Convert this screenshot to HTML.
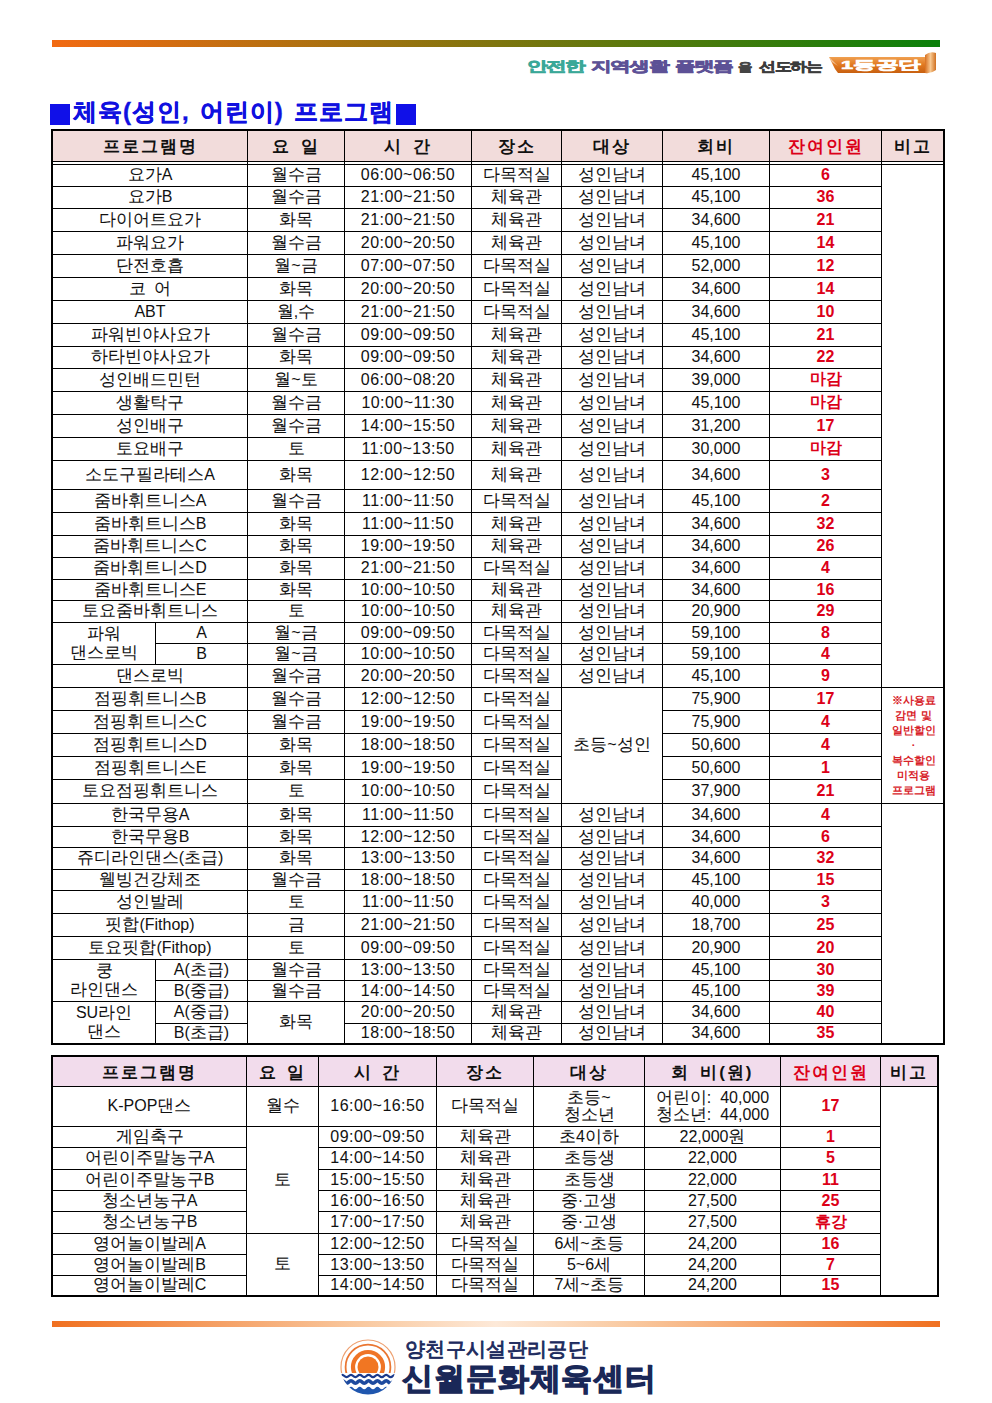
<!DOCTYPE html>
<html lang="ko"><head><meta charset="utf-8"><title>체육 프로그램</title>
<style>
html,body{margin:0;padding:0;background:#fff}
body{width:992px;height:1403px;position:relative;overflow:hidden;font-family:"Liberation Sans", sans-serif;color:#111}
i{position:absolute;display:block}
.c{position:absolute;display:flex;align-items:center;justify-content:center;text-align:center;font-weight:normal;font-size:16px;line-height:1;white-space:nowrap;padding-bottom:2px;box-sizing:border-box}
.c.h{font-weight:bold;font-size:17px;letter-spacing:2px;word-spacing:3px;padding-bottom:0;padding-top:1px}
.k{font-size:17px;-webkit-text-stroke:0.05px currentColor}
.c.h .k{font-size:17px;-webkit-text-stroke:0}
.c.red .k{-webkit-text-stroke:0;font-size:16px}
.c.note .k{font-size:11px;-webkit-text-stroke:0}
.c.h.red .k{font-size:17px}
.c.red{color:#dc0018;font-weight:bold}
.c p{margin:0;padding:0}
.c.tm{letter-spacing:0.45px}
.c.dg{padding-bottom:1px}
.c.ml{line-height:19px}
.c.ml2{line-height:17px}
.c.note{font-size:11px;line-height:15px;color:#d8232a;font-weight:bold;padding-bottom:0;padding-left:2px}
.topbar{position:absolute;left:52px;top:40px;width:888px;height:7px;background:linear-gradient(90deg,#f26a12,#0a800a)}
.botbar{position:absolute;left:52px;top:1321px;width:888px;height:6px;background:linear-gradient(90deg,#f07020 0%,#f9c9a0 35%,#fde9d8 50%,#f9c9a0 65%,#f07020 100%)}
.title{position:absolute;left:73px;top:96px;font-size:24px;font-weight:bold;color:#1010e0;white-space:nowrap;line-height:32px;letter-spacing:1px;word-spacing:2.5px;-webkit-text-stroke:0.4px #1010e0}
.sg{position:absolute;white-space:nowrap;font-weight:bold;line-height:1;transform-origin:0 0}
</style></head><body>
<div class="topbar"></div>
<i style="left:50px;top:104px;width:20px;height:21px;background:#1010e8"></i>
<div class="title">체육(성인, 어린이) 프로그램</div>
<i style="left:396px;top:104px;width:20px;height:21px;background:#1010e8"></i>
<div class="sg" style="left:527px;top:59px;font-size:14px;letter-spacing:-1px;color:#3aa898;transform:scaleX(1.48);-webkit-text-stroke:0.7px #3aa898">안전한</div>
<div class="sg" style="left:591px;top:59px;font-size:14px;letter-spacing:-1px;color:#5d5196;transform:scaleX(1.48);-webkit-text-stroke:0.7px #5d5196">지역생활</div>
<div class="sg" style="left:675px;top:59px;font-size:14px;letter-spacing:-1px;color:#5d5196;transform:scaleX(1.48);-webkit-text-stroke:0.7px #5d5196">플랫폼</div>
<div class="sg" style="left:738px;top:61px;font-size:12px;color:#444;transform:scaleX(1.2);-webkit-text-stroke:0.6px #444">을</div>
<div class="sg" style="left:759px;top:60px;font-size:13px;letter-spacing:-1px;color:#3c3c3c;transform:scaleX(1.3);-webkit-text-stroke:0.6px #3c3c3c">선도하는</div>
<svg style="position:absolute;left:826px;top:50px" width="114" height="26" viewBox="0 0 114 26">
<defs><linearGradient id="rb" x1="0" y1="0" x2="0" y2="1"><stop offset="0" stop-color="#f0a050"/><stop offset="0.5" stop-color="#e07820"/><stop offset="1" stop-color="#c86010"/></linearGradient>
<linearGradient id="cl" x1="0" y1="0" x2="1" y2="0"><stop offset="0" stop-color="#d87020"/><stop offset="0.5" stop-color="#f8c890"/><stop offset="1" stop-color="#d07020"/></linearGradient></defs>
<path d="M3 7 L102 7 L102 23 L12 23 L9 19 Z M3 7 L11 15 L9 19" fill="url(#rb)"/>
<path d="M3 7 L12 16 L6 12 Z" fill="#fff" opacity="0.5"/>
<path d="M99 5 Q104 1 110 3 L110 20 Q105 24 99 23 Z" fill="url(#cl)"/>
<text x="15" y="19" font-size="11.5" font-weight="bold" fill="#fff" stroke="#fff" stroke-width="0.6" textLength="80" lengthAdjust="spacingAndGlyphs" font-family="Liberation Sans, sans-serif">1등공단</text>
</svg>
<i style="left:53px;top:131px;width:890px;height:30px;background:#f2dcdb"></i>
<b class="c h" style="left:53px;top:131px;width:194px;height:30px;"><p><span class="k">프로그램명</span></p></b>
<b class="c h" style="left:248px;top:131px;width:96px;height:30px;"><p><span class="k">요</span> <span class="k">일</span></p></b>
<b class="c h" style="left:345px;top:131px;width:126px;height:30px;"><p><span class="k">시</span> <span class="k">간</span></p></b>
<b class="c h" style="left:472px;top:131px;width:89px;height:30px;"><p><span class="k">장소</span></p></b>
<b class="c h" style="left:562px;top:131px;width:100px;height:30px;"><p><span class="k">대상</span></p></b>
<b class="c h" style="left:663px;top:131px;width:106px;height:30px;"><p><span class="k">회비</span></p></b>
<b class="c h red" style="left:770px;top:131px;width:111px;height:30px;"><p><span class="k">잔여인원</span></p></b>
<b class="c h" style="left:882px;top:131px;width:61px;height:30px;"><p><span class="k">비고</span></p></b>
<b class="c " style="left:53px;top:165px;width:194px;height:21px;"><p><span class="k">요가</span>A</p></b>
<b class="c " style="left:248px;top:165px;width:96px;height:21px;"><p><span class="k">월수금</span></p></b>
<b class="c  tm dg" style="left:345px;top:165px;width:126px;height:21px;"><p>06:00~06:50</p></b>
<b class="c " style="left:472px;top:165px;width:89px;height:21px;"><p><span class="k">다목적실</span></p></b>
<b class="c " style="left:562px;top:165px;width:100px;height:21px;"><p><span class="k">성인남녀</span></p></b>
<b class="c  dg" style="left:663px;top:165px;width:106px;height:21px;"><p>45,100</p></b>
<b class="c red dg" style="left:770px;top:165px;width:111px;height:21px;"><p>6</p></b>
<b class="c " style="left:53px;top:187px;width:194px;height:21px;"><p><span class="k">요가</span>B</p></b>
<b class="c " style="left:248px;top:187px;width:96px;height:21px;"><p><span class="k">월수금</span></p></b>
<b class="c  tm dg" style="left:345px;top:187px;width:126px;height:21px;"><p>21:00~21:50</p></b>
<b class="c " style="left:472px;top:187px;width:89px;height:21px;"><p><span class="k">체육관</span></p></b>
<b class="c " style="left:562px;top:187px;width:100px;height:21px;"><p><span class="k">성인남녀</span></p></b>
<b class="c  dg" style="left:663px;top:187px;width:106px;height:21px;"><p>45,100</p></b>
<b class="c red dg" style="left:770px;top:187px;width:111px;height:21px;"><p>36</p></b>
<b class="c " style="left:53px;top:209px;width:194px;height:22px;"><p><span class="k">다이어트요가</span></p></b>
<b class="c " style="left:248px;top:209px;width:96px;height:22px;"><p><span class="k">화목</span></p></b>
<b class="c  tm dg" style="left:345px;top:209px;width:126px;height:22px;"><p>21:00~21:50</p></b>
<b class="c " style="left:472px;top:209px;width:89px;height:22px;"><p><span class="k">체육관</span></p></b>
<b class="c " style="left:562px;top:209px;width:100px;height:22px;"><p><span class="k">성인남녀</span></p></b>
<b class="c  dg" style="left:663px;top:209px;width:106px;height:22px;"><p>34,600</p></b>
<b class="c red dg" style="left:770px;top:209px;width:111px;height:22px;"><p>21</p></b>
<b class="c " style="left:53px;top:232px;width:194px;height:22px;"><p><span class="k">파워요가</span></p></b>
<b class="c " style="left:248px;top:232px;width:96px;height:22px;"><p><span class="k">월수금</span></p></b>
<b class="c  tm dg" style="left:345px;top:232px;width:126px;height:22px;"><p>20:00~20:50</p></b>
<b class="c " style="left:472px;top:232px;width:89px;height:22px;"><p><span class="k">체육관</span></p></b>
<b class="c " style="left:562px;top:232px;width:100px;height:22px;"><p><span class="k">성인남녀</span></p></b>
<b class="c  dg" style="left:663px;top:232px;width:106px;height:22px;"><p>45,100</p></b>
<b class="c red dg" style="left:770px;top:232px;width:111px;height:22px;"><p>14</p></b>
<b class="c " style="left:53px;top:255px;width:194px;height:22px;"><p><span class="k">단전호흡</span></p></b>
<b class="c " style="left:248px;top:255px;width:96px;height:22px;"><p><span class="k">월</span>~<span class="k">금</span></p></b>
<b class="c  tm dg" style="left:345px;top:255px;width:126px;height:22px;"><p>07:00~07:50</p></b>
<b class="c " style="left:472px;top:255px;width:89px;height:22px;"><p><span class="k">다목적실</span></p></b>
<b class="c " style="left:562px;top:255px;width:100px;height:22px;"><p><span class="k">성인남녀</span></p></b>
<b class="c  dg" style="left:663px;top:255px;width:106px;height:22px;"><p>52,000</p></b>
<b class="c red dg" style="left:770px;top:255px;width:111px;height:22px;"><p>12</p></b>
<b class="c " style="left:53px;top:278px;width:194px;height:22px;"><p><span class="k">코</span>&nbsp;&nbsp;<span class="k">어</span></p></b>
<b class="c " style="left:248px;top:278px;width:96px;height:22px;"><p><span class="k">화목</span></p></b>
<b class="c  tm dg" style="left:345px;top:278px;width:126px;height:22px;"><p>20:00~20:50</p></b>
<b class="c " style="left:472px;top:278px;width:89px;height:22px;"><p><span class="k">다목적실</span></p></b>
<b class="c " style="left:562px;top:278px;width:100px;height:22px;"><p><span class="k">성인남녀</span></p></b>
<b class="c  dg" style="left:663px;top:278px;width:106px;height:22px;"><p>34,600</p></b>
<b class="c red dg" style="left:770px;top:278px;width:111px;height:22px;"><p>14</p></b>
<b class="c  dg" style="left:53px;top:301px;width:194px;height:22px;"><p>ABT</p></b>
<b class="c " style="left:248px;top:301px;width:96px;height:22px;"><p><span class="k">월</span>,<span class="k">수</span></p></b>
<b class="c  tm dg" style="left:345px;top:301px;width:126px;height:22px;"><p>21:00~21:50</p></b>
<b class="c " style="left:472px;top:301px;width:89px;height:22px;"><p><span class="k">다목적실</span></p></b>
<b class="c " style="left:562px;top:301px;width:100px;height:22px;"><p><span class="k">성인남녀</span></p></b>
<b class="c  dg" style="left:663px;top:301px;width:106px;height:22px;"><p>34,600</p></b>
<b class="c red dg" style="left:770px;top:301px;width:111px;height:22px;"><p>10</p></b>
<b class="c " style="left:53px;top:324px;width:194px;height:22px;"><p><span class="k">파워빈야사요가</span></p></b>
<b class="c " style="left:248px;top:324px;width:96px;height:22px;"><p><span class="k">월수금</span></p></b>
<b class="c  tm dg" style="left:345px;top:324px;width:126px;height:22px;"><p>09:00~09:50</p></b>
<b class="c " style="left:472px;top:324px;width:89px;height:22px;"><p><span class="k">체육관</span></p></b>
<b class="c " style="left:562px;top:324px;width:100px;height:22px;"><p><span class="k">성인남녀</span></p></b>
<b class="c  dg" style="left:663px;top:324px;width:106px;height:22px;"><p>45,100</p></b>
<b class="c red dg" style="left:770px;top:324px;width:111px;height:22px;"><p>21</p></b>
<b class="c " style="left:53px;top:347px;width:194px;height:21px;"><p><span class="k">하타빈야사요가</span></p></b>
<b class="c " style="left:248px;top:347px;width:96px;height:21px;"><p><span class="k">화목</span></p></b>
<b class="c  tm dg" style="left:345px;top:347px;width:126px;height:21px;"><p>09:00~09:50</p></b>
<b class="c " style="left:472px;top:347px;width:89px;height:21px;"><p><span class="k">체육관</span></p></b>
<b class="c " style="left:562px;top:347px;width:100px;height:21px;"><p><span class="k">성인남녀</span></p></b>
<b class="c  dg" style="left:663px;top:347px;width:106px;height:21px;"><p>34,600</p></b>
<b class="c red dg" style="left:770px;top:347px;width:111px;height:21px;"><p>22</p></b>
<b class="c " style="left:53px;top:369px;width:194px;height:22px;"><p><span class="k">성인배드민턴</span></p></b>
<b class="c " style="left:248px;top:369px;width:96px;height:22px;"><p><span class="k">월</span>~<span class="k">토</span></p></b>
<b class="c  tm dg" style="left:345px;top:369px;width:126px;height:22px;"><p>06:00~08:20</p></b>
<b class="c " style="left:472px;top:369px;width:89px;height:22px;"><p><span class="k">체육관</span></p></b>
<b class="c " style="left:562px;top:369px;width:100px;height:22px;"><p><span class="k">성인남녀</span></p></b>
<b class="c  dg" style="left:663px;top:369px;width:106px;height:22px;"><p>39,000</p></b>
<b class="c red" style="left:770px;top:369px;width:111px;height:22px;"><p><span class="k">마감</span></p></b>
<b class="c " style="left:53px;top:392px;width:194px;height:22px;"><p><span class="k">생활탁구</span></p></b>
<b class="c " style="left:248px;top:392px;width:96px;height:22px;"><p><span class="k">월수금</span></p></b>
<b class="c  tm dg" style="left:345px;top:392px;width:126px;height:22px;"><p>10:00~11:30</p></b>
<b class="c " style="left:472px;top:392px;width:89px;height:22px;"><p><span class="k">체육관</span></p></b>
<b class="c " style="left:562px;top:392px;width:100px;height:22px;"><p><span class="k">성인남녀</span></p></b>
<b class="c  dg" style="left:663px;top:392px;width:106px;height:22px;"><p>45,100</p></b>
<b class="c red" style="left:770px;top:392px;width:111px;height:22px;"><p><span class="k">마감</span></p></b>
<b class="c " style="left:53px;top:415px;width:194px;height:22px;"><p><span class="k">성인배구</span></p></b>
<b class="c " style="left:248px;top:415px;width:96px;height:22px;"><p><span class="k">월수금</span></p></b>
<b class="c  tm dg" style="left:345px;top:415px;width:126px;height:22px;"><p>14:00~15:50</p></b>
<b class="c " style="left:472px;top:415px;width:89px;height:22px;"><p><span class="k">체육관</span></p></b>
<b class="c " style="left:562px;top:415px;width:100px;height:22px;"><p><span class="k">성인남녀</span></p></b>
<b class="c  dg" style="left:663px;top:415px;width:106px;height:22px;"><p>31,200</p></b>
<b class="c red dg" style="left:770px;top:415px;width:111px;height:22px;"><p>17</p></b>
<b class="c " style="left:53px;top:438px;width:194px;height:22px;"><p><span class="k">토요배구</span></p></b>
<b class="c " style="left:248px;top:438px;width:96px;height:22px;"><p><span class="k">토</span></p></b>
<b class="c  tm dg" style="left:345px;top:438px;width:126px;height:22px;"><p>11:00~13:50</p></b>
<b class="c " style="left:472px;top:438px;width:89px;height:22px;"><p><span class="k">체육관</span></p></b>
<b class="c " style="left:562px;top:438px;width:100px;height:22px;"><p><span class="k">성인남녀</span></p></b>
<b class="c  dg" style="left:663px;top:438px;width:106px;height:22px;"><p>30,000</p></b>
<b class="c red" style="left:770px;top:438px;width:111px;height:22px;"><p><span class="k">마감</span></p></b>
<b class="c " style="left:53px;top:461px;width:194px;height:28px;"><p><span class="k">소도구필라테스</span>A</p></b>
<b class="c " style="left:248px;top:461px;width:96px;height:28px;"><p><span class="k">화목</span></p></b>
<b class="c  tm dg" style="left:345px;top:461px;width:126px;height:28px;"><p>12:00~12:50</p></b>
<b class="c " style="left:472px;top:461px;width:89px;height:28px;"><p><span class="k">체육관</span></p></b>
<b class="c " style="left:562px;top:461px;width:100px;height:28px;"><p><span class="k">성인남녀</span></p></b>
<b class="c  dg" style="left:663px;top:461px;width:106px;height:28px;"><p>34,600</p></b>
<b class="c red dg" style="left:770px;top:461px;width:111px;height:28px;"><p>3</p></b>
<b class="c " style="left:53px;top:490px;width:194px;height:22px;"><p><span class="k">줌바휘트니스</span>A</p></b>
<b class="c " style="left:248px;top:490px;width:96px;height:22px;"><p><span class="k">월수금</span></p></b>
<b class="c  tm dg" style="left:345px;top:490px;width:126px;height:22px;"><p>11:00~11:50</p></b>
<b class="c " style="left:472px;top:490px;width:89px;height:22px;"><p><span class="k">다목적실</span></p></b>
<b class="c " style="left:562px;top:490px;width:100px;height:22px;"><p><span class="k">성인남녀</span></p></b>
<b class="c  dg" style="left:663px;top:490px;width:106px;height:22px;"><p>45,100</p></b>
<b class="c red dg" style="left:770px;top:490px;width:111px;height:22px;"><p>2</p></b>
<b class="c " style="left:53px;top:513px;width:194px;height:22px;"><p><span class="k">줌바휘트니스</span>B</p></b>
<b class="c " style="left:248px;top:513px;width:96px;height:22px;"><p><span class="k">화목</span></p></b>
<b class="c  tm dg" style="left:345px;top:513px;width:126px;height:22px;"><p>11:00~11:50</p></b>
<b class="c " style="left:472px;top:513px;width:89px;height:22px;"><p><span class="k">체육관</span></p></b>
<b class="c " style="left:562px;top:513px;width:100px;height:22px;"><p><span class="k">성인남녀</span></p></b>
<b class="c  dg" style="left:663px;top:513px;width:106px;height:22px;"><p>34,600</p></b>
<b class="c red dg" style="left:770px;top:513px;width:111px;height:22px;"><p>32</p></b>
<b class="c " style="left:53px;top:536px;width:194px;height:21px;"><p><span class="k">줌바휘트니스</span>C</p></b>
<b class="c " style="left:248px;top:536px;width:96px;height:21px;"><p><span class="k">화목</span></p></b>
<b class="c  tm dg" style="left:345px;top:536px;width:126px;height:21px;"><p>19:00~19:50</p></b>
<b class="c " style="left:472px;top:536px;width:89px;height:21px;"><p><span class="k">체육관</span></p></b>
<b class="c " style="left:562px;top:536px;width:100px;height:21px;"><p><span class="k">성인남녀</span></p></b>
<b class="c  dg" style="left:663px;top:536px;width:106px;height:21px;"><p>34,600</p></b>
<b class="c red dg" style="left:770px;top:536px;width:111px;height:21px;"><p>26</p></b>
<b class="c " style="left:53px;top:558px;width:194px;height:21px;"><p><span class="k">줌바휘트니스</span>D</p></b>
<b class="c " style="left:248px;top:558px;width:96px;height:21px;"><p><span class="k">화목</span></p></b>
<b class="c  tm dg" style="left:345px;top:558px;width:126px;height:21px;"><p>21:00~21:50</p></b>
<b class="c " style="left:472px;top:558px;width:89px;height:21px;"><p><span class="k">다목적실</span></p></b>
<b class="c " style="left:562px;top:558px;width:100px;height:21px;"><p><span class="k">성인남녀</span></p></b>
<b class="c  dg" style="left:663px;top:558px;width:106px;height:21px;"><p>34,600</p></b>
<b class="c red dg" style="left:770px;top:558px;width:111px;height:21px;"><p>4</p></b>
<b class="c " style="left:53px;top:580px;width:194px;height:20px;"><p><span class="k">줌바휘트니스</span>E</p></b>
<b class="c " style="left:248px;top:580px;width:96px;height:20px;"><p><span class="k">화목</span></p></b>
<b class="c  tm dg" style="left:345px;top:580px;width:126px;height:20px;"><p>10:00~10:50</p></b>
<b class="c " style="left:472px;top:580px;width:89px;height:20px;"><p><span class="k">체육관</span></p></b>
<b class="c " style="left:562px;top:580px;width:100px;height:20px;"><p><span class="k">성인남녀</span></p></b>
<b class="c  dg" style="left:663px;top:580px;width:106px;height:20px;"><p>34,600</p></b>
<b class="c red dg" style="left:770px;top:580px;width:111px;height:20px;"><p>16</p></b>
<b class="c " style="left:53px;top:601px;width:194px;height:21px;"><p><span class="k">토요줌바휘트니스</span></p></b>
<b class="c " style="left:248px;top:601px;width:96px;height:21px;"><p><span class="k">토</span></p></b>
<b class="c  tm dg" style="left:345px;top:601px;width:126px;height:21px;"><p>10:00~10:50</p></b>
<b class="c " style="left:472px;top:601px;width:89px;height:21px;"><p><span class="k">체육관</span></p></b>
<b class="c " style="left:562px;top:601px;width:100px;height:21px;"><p><span class="k">성인남녀</span></p></b>
<b class="c  dg" style="left:663px;top:601px;width:106px;height:21px;"><p>20,900</p></b>
<b class="c red dg" style="left:770px;top:601px;width:111px;height:21px;"><p>29</p></b>
<b class="c  dg" style="left:156px;top:623px;width:91px;height:20px;"><p>A</p></b>
<b class="c " style="left:248px;top:623px;width:96px;height:20px;"><p><span class="k">월</span>~<span class="k">금</span></p></b>
<b class="c  tm dg" style="left:345px;top:623px;width:126px;height:20px;"><p>09:00~09:50</p></b>
<b class="c " style="left:472px;top:623px;width:89px;height:20px;"><p><span class="k">다목적실</span></p></b>
<b class="c " style="left:562px;top:623px;width:100px;height:20px;"><p><span class="k">성인남녀</span></p></b>
<b class="c  dg" style="left:663px;top:623px;width:106px;height:20px;"><p>59,100</p></b>
<b class="c red dg" style="left:770px;top:623px;width:111px;height:20px;"><p>8</p></b>
<b class="c  dg" style="left:156px;top:644px;width:91px;height:20px;"><p>B</p></b>
<b class="c " style="left:248px;top:644px;width:96px;height:20px;"><p><span class="k">월</span>~<span class="k">금</span></p></b>
<b class="c  tm dg" style="left:345px;top:644px;width:126px;height:20px;"><p>10:00~10:50</p></b>
<b class="c " style="left:472px;top:644px;width:89px;height:20px;"><p><span class="k">다목적실</span></p></b>
<b class="c " style="left:562px;top:644px;width:100px;height:20px;"><p><span class="k">성인남녀</span></p></b>
<b class="c  dg" style="left:663px;top:644px;width:106px;height:20px;"><p>59,100</p></b>
<b class="c red dg" style="left:770px;top:644px;width:111px;height:20px;"><p>4</p></b>
<b class="c " style="left:53px;top:665px;width:194px;height:22px;"><p><span class="k">댄스로빅</span></p></b>
<b class="c " style="left:248px;top:665px;width:96px;height:22px;"><p><span class="k">월수금</span></p></b>
<b class="c  tm dg" style="left:345px;top:665px;width:126px;height:22px;"><p>20:00~20:50</p></b>
<b class="c " style="left:472px;top:665px;width:89px;height:22px;"><p><span class="k">다목적실</span></p></b>
<b class="c " style="left:562px;top:665px;width:100px;height:22px;"><p><span class="k">성인남녀</span></p></b>
<b class="c  dg" style="left:663px;top:665px;width:106px;height:22px;"><p>45,100</p></b>
<b class="c red dg" style="left:770px;top:665px;width:111px;height:22px;"><p>9</p></b>
<b class="c " style="left:53px;top:688px;width:194px;height:22px;"><p><span class="k">점핑휘트니스</span>B</p></b>
<b class="c " style="left:248px;top:688px;width:96px;height:22px;"><p><span class="k">월수금</span></p></b>
<b class="c  tm dg" style="left:345px;top:688px;width:126px;height:22px;"><p>12:00~12:50</p></b>
<b class="c " style="left:472px;top:688px;width:89px;height:22px;"><p><span class="k">다목적실</span></p></b>
<b class="c  dg" style="left:663px;top:688px;width:106px;height:22px;"><p>75,900</p></b>
<b class="c red dg" style="left:770px;top:688px;width:111px;height:22px;"><p>17</p></b>
<b class="c " style="left:53px;top:711px;width:194px;height:22px;"><p><span class="k">점핑휘트니스</span>C</p></b>
<b class="c " style="left:248px;top:711px;width:96px;height:22px;"><p><span class="k">월수금</span></p></b>
<b class="c  tm dg" style="left:345px;top:711px;width:126px;height:22px;"><p>19:00~19:50</p></b>
<b class="c " style="left:472px;top:711px;width:89px;height:22px;"><p><span class="k">다목적실</span></p></b>
<b class="c  dg" style="left:663px;top:711px;width:106px;height:22px;"><p>75,900</p></b>
<b class="c red dg" style="left:770px;top:711px;width:111px;height:22px;"><p>4</p></b>
<b class="c " style="left:53px;top:734px;width:194px;height:22px;"><p><span class="k">점핑휘트니스</span>D</p></b>
<b class="c " style="left:248px;top:734px;width:96px;height:22px;"><p><span class="k">화목</span></p></b>
<b class="c  tm dg" style="left:345px;top:734px;width:126px;height:22px;"><p>18:00~18:50</p></b>
<b class="c " style="left:472px;top:734px;width:89px;height:22px;"><p><span class="k">다목적실</span></p></b>
<b class="c  dg" style="left:663px;top:734px;width:106px;height:22px;"><p>50,600</p></b>
<b class="c red dg" style="left:770px;top:734px;width:111px;height:22px;"><p>4</p></b>
<b class="c " style="left:53px;top:757px;width:194px;height:22px;"><p><span class="k">점핑휘트니스</span>E</p></b>
<b class="c " style="left:248px;top:757px;width:96px;height:22px;"><p><span class="k">화목</span></p></b>
<b class="c  tm dg" style="left:345px;top:757px;width:126px;height:22px;"><p>19:00~19:50</p></b>
<b class="c " style="left:472px;top:757px;width:89px;height:22px;"><p><span class="k">다목적실</span></p></b>
<b class="c  dg" style="left:663px;top:757px;width:106px;height:22px;"><p>50,600</p></b>
<b class="c red dg" style="left:770px;top:757px;width:111px;height:22px;"><p>1</p></b>
<b class="c " style="left:53px;top:780px;width:194px;height:23px;"><p><span class="k">토요점핑휘트니스</span></p></b>
<b class="c " style="left:248px;top:780px;width:96px;height:23px;"><p><span class="k">토</span></p></b>
<b class="c  tm dg" style="left:345px;top:780px;width:126px;height:23px;"><p>10:00~10:50</p></b>
<b class="c " style="left:472px;top:780px;width:89px;height:23px;"><p><span class="k">다목적실</span></p></b>
<b class="c  dg" style="left:663px;top:780px;width:106px;height:23px;"><p>37,900</p></b>
<b class="c red dg" style="left:770px;top:780px;width:111px;height:23px;"><p>21</p></b>
<b class="c " style="left:53px;top:804px;width:194px;height:22px;"><p><span class="k">한국무용</span>A</p></b>
<b class="c " style="left:248px;top:804px;width:96px;height:22px;"><p><span class="k">화목</span></p></b>
<b class="c  tm dg" style="left:345px;top:804px;width:126px;height:22px;"><p>11:00~11:50</p></b>
<b class="c " style="left:472px;top:804px;width:89px;height:22px;"><p><span class="k">다목적실</span></p></b>
<b class="c " style="left:562px;top:804px;width:100px;height:22px;"><p><span class="k">성인남녀</span></p></b>
<b class="c  dg" style="left:663px;top:804px;width:106px;height:22px;"><p>34,600</p></b>
<b class="c red dg" style="left:770px;top:804px;width:111px;height:22px;"><p>4</p></b>
<b class="c " style="left:53px;top:827px;width:194px;height:20px;"><p><span class="k">한국무용</span>B</p></b>
<b class="c " style="left:248px;top:827px;width:96px;height:20px;"><p><span class="k">화목</span></p></b>
<b class="c  tm dg" style="left:345px;top:827px;width:126px;height:20px;"><p>12:00~12:50</p></b>
<b class="c " style="left:472px;top:827px;width:89px;height:20px;"><p><span class="k">다목적실</span></p></b>
<b class="c " style="left:562px;top:827px;width:100px;height:20px;"><p><span class="k">성인남녀</span></p></b>
<b class="c  dg" style="left:663px;top:827px;width:106px;height:20px;"><p>34,600</p></b>
<b class="c red dg" style="left:770px;top:827px;width:111px;height:20px;"><p>6</p></b>
<b class="c " style="left:53px;top:848px;width:194px;height:21px;"><p><span class="k">쥬디라인댄스</span>(<span class="k">초급</span>)</p></b>
<b class="c " style="left:248px;top:848px;width:96px;height:21px;"><p><span class="k">화목</span></p></b>
<b class="c  tm dg" style="left:345px;top:848px;width:126px;height:21px;"><p>13:00~13:50</p></b>
<b class="c " style="left:472px;top:848px;width:89px;height:21px;"><p><span class="k">다목적실</span></p></b>
<b class="c " style="left:562px;top:848px;width:100px;height:21px;"><p><span class="k">성인남녀</span></p></b>
<b class="c  dg" style="left:663px;top:848px;width:106px;height:21px;"><p>34,600</p></b>
<b class="c red dg" style="left:770px;top:848px;width:111px;height:21px;"><p>32</p></b>
<b class="c " style="left:53px;top:870px;width:194px;height:20px;"><p><span class="k">웰빙건강체조</span></p></b>
<b class="c " style="left:248px;top:870px;width:96px;height:20px;"><p><span class="k">월수금</span></p></b>
<b class="c  tm dg" style="left:345px;top:870px;width:126px;height:20px;"><p>18:00~18:50</p></b>
<b class="c " style="left:472px;top:870px;width:89px;height:20px;"><p><span class="k">다목적실</span></p></b>
<b class="c " style="left:562px;top:870px;width:100px;height:20px;"><p><span class="k">성인남녀</span></p></b>
<b class="c  dg" style="left:663px;top:870px;width:106px;height:20px;"><p>45,100</p></b>
<b class="c red dg" style="left:770px;top:870px;width:111px;height:20px;"><p>15</p></b>
<b class="c " style="left:53px;top:891px;width:194px;height:22px;"><p><span class="k">성인발레</span></p></b>
<b class="c " style="left:248px;top:891px;width:96px;height:22px;"><p><span class="k">토</span></p></b>
<b class="c  tm dg" style="left:345px;top:891px;width:126px;height:22px;"><p>11:00~11:50</p></b>
<b class="c " style="left:472px;top:891px;width:89px;height:22px;"><p><span class="k">다목적실</span></p></b>
<b class="c " style="left:562px;top:891px;width:100px;height:22px;"><p><span class="k">성인남녀</span></p></b>
<b class="c  dg" style="left:663px;top:891px;width:106px;height:22px;"><p>40,000</p></b>
<b class="c red dg" style="left:770px;top:891px;width:111px;height:22px;"><p>3</p></b>
<b class="c " style="left:53px;top:914px;width:194px;height:22px;"><p><span class="k">핏합</span>(Fithop)</p></b>
<b class="c " style="left:248px;top:914px;width:96px;height:22px;"><p><span class="k">금</span></p></b>
<b class="c  tm dg" style="left:345px;top:914px;width:126px;height:22px;"><p>21:00~21:50</p></b>
<b class="c " style="left:472px;top:914px;width:89px;height:22px;"><p><span class="k">다목적실</span></p></b>
<b class="c " style="left:562px;top:914px;width:100px;height:22px;"><p><span class="k">성인남녀</span></p></b>
<b class="c  dg" style="left:663px;top:914px;width:106px;height:22px;"><p>18,700</p></b>
<b class="c red dg" style="left:770px;top:914px;width:111px;height:22px;"><p>25</p></b>
<b class="c " style="left:53px;top:937px;width:194px;height:22px;"><p><span class="k">토요핏합</span>(Fithop)</p></b>
<b class="c " style="left:248px;top:937px;width:96px;height:22px;"><p><span class="k">토</span></p></b>
<b class="c  tm dg" style="left:345px;top:937px;width:126px;height:22px;"><p>09:00~09:50</p></b>
<b class="c " style="left:472px;top:937px;width:89px;height:22px;"><p><span class="k">다목적실</span></p></b>
<b class="c " style="left:562px;top:937px;width:100px;height:22px;"><p><span class="k">성인남녀</span></p></b>
<b class="c  dg" style="left:663px;top:937px;width:106px;height:22px;"><p>20,900</p></b>
<b class="c red dg" style="left:770px;top:937px;width:111px;height:22px;"><p>20</p></b>
<b class="c " style="left:156px;top:960px;width:91px;height:20px;"><p>A(<span class="k">초급</span>)</p></b>
<b class="c " style="left:248px;top:960px;width:96px;height:20px;"><p><span class="k">월수금</span></p></b>
<b class="c  tm dg" style="left:345px;top:960px;width:126px;height:20px;"><p>13:00~13:50</p></b>
<b class="c " style="left:472px;top:960px;width:89px;height:20px;"><p><span class="k">다목적실</span></p></b>
<b class="c " style="left:562px;top:960px;width:100px;height:20px;"><p><span class="k">성인남녀</span></p></b>
<b class="c  dg" style="left:663px;top:960px;width:106px;height:20px;"><p>45,100</p></b>
<b class="c red dg" style="left:770px;top:960px;width:111px;height:20px;"><p>30</p></b>
<b class="c " style="left:156px;top:981px;width:91px;height:20px;"><p>B(<span class="k">중급</span>)</p></b>
<b class="c " style="left:248px;top:981px;width:96px;height:20px;"><p><span class="k">월수금</span></p></b>
<b class="c  tm dg" style="left:345px;top:981px;width:126px;height:20px;"><p>14:00~14:50</p></b>
<b class="c " style="left:472px;top:981px;width:89px;height:20px;"><p><span class="k">다목적실</span></p></b>
<b class="c " style="left:562px;top:981px;width:100px;height:20px;"><p><span class="k">성인남녀</span></p></b>
<b class="c  dg" style="left:663px;top:981px;width:106px;height:20px;"><p>45,100</p></b>
<b class="c red dg" style="left:770px;top:981px;width:111px;height:20px;"><p>39</p></b>
<b class="c " style="left:156px;top:1002px;width:91px;height:21px;"><p>A(<span class="k">중급</span>)</p></b>
<b class="c  tm dg" style="left:345px;top:1002px;width:126px;height:21px;"><p>20:00~20:50</p></b>
<b class="c " style="left:472px;top:1002px;width:89px;height:21px;"><p><span class="k">체육관</span></p></b>
<b class="c " style="left:562px;top:1002px;width:100px;height:21px;"><p><span class="k">성인남녀</span></p></b>
<b class="c  dg" style="left:663px;top:1002px;width:106px;height:21px;"><p>34,600</p></b>
<b class="c red dg" style="left:770px;top:1002px;width:111px;height:21px;"><p>40</p></b>
<b class="c " style="left:156px;top:1024px;width:91px;height:19px;"><p>B(<span class="k">초급</span>)</p></b>
<b class="c  tm dg" style="left:345px;top:1024px;width:126px;height:19px;"><p>18:00~18:50</p></b>
<b class="c " style="left:472px;top:1024px;width:89px;height:19px;"><p><span class="k">체육관</span></p></b>
<b class="c " style="left:562px;top:1024px;width:100px;height:19px;"><p><span class="k">성인남녀</span></p></b>
<b class="c  dg" style="left:663px;top:1024px;width:106px;height:19px;"><p>34,600</p></b>
<b class="c red dg" style="left:770px;top:1024px;width:111px;height:19px;"><p>35</p></b>
<b class="c ml" style="left:53px;top:623px;width:102px;height:41px;"><p><span class="k">파워</span><br><span class="k">댄스로빅</span></p></b>
<b class="c ml" style="left:53px;top:960px;width:102px;height:41px;"><p><span class="k">쿵</span><br><span class="k">라인댄스</span></p></b>
<b class="c ml" style="left:53px;top:1002px;width:102px;height:41px;"><p>SU<span class="k">라인</span><br><span class="k">댄스</span></p></b>
<b class="c " style="left:248px;top:1002px;width:96px;height:41px;"><p><span class="k">화목</span></p></b>
<b class="c " style="left:562px;top:688px;width:100px;height:115px;"><p><span class="k">초등</span>~<span class="k">성인</span></p></b>
<b class="c note" style="left:882px;top:688px;width:61px;height:115px;"><p>※<span class="k">사용료</span><br><span class="k">감면</span> <span class="k">및</span><br><span class="k">일반할인</span><br>·<br><span class="k">복수할인</span><br><span class="k">미적용</span><br><span class="k">프로그램</span></p></b>
<i style="left:51px;top:129px;width:894px;height:2px;background:#000"></i>
<i style="left:51px;top:1043px;width:894px;height:2px;background:#000"></i>
<i style="left:51px;top:129px;width:2px;height:916px;background:#000"></i>
<i style="left:943px;top:129px;width:2px;height:916px;background:#000"></i>
<i style="left:51px;top:161px;width:892px;height:1px;background:#000"></i>
<i style="left:51px;top:164px;width:892px;height:1px;background:#000"></i>
<i style="left:247px;top:129px;width:1px;height:914px;background:#000"></i>
<i style="left:344px;top:129px;width:1px;height:914px;background:#000"></i>
<i style="left:471px;top:129px;width:1px;height:914px;background:#000"></i>
<i style="left:561px;top:129px;width:1px;height:914px;background:#000"></i>
<i style="left:662px;top:129px;width:1px;height:914px;background:#000"></i>
<i style="left:769px;top:129px;width:1px;height:914px;background:#000"></i>
<i style="left:881px;top:129px;width:1px;height:914px;background:#000"></i>
<i style="left:51px;top:186px;width:105px;height:1px;background:#000"></i>
<i style="left:155px;top:186px;width:93px;height:1px;background:#000"></i>
<i style="left:247px;top:186px;width:98px;height:1px;background:#000"></i>
<i style="left:344px;top:186px;width:128px;height:1px;background:#000"></i>
<i style="left:471px;top:186px;width:91px;height:1px;background:#000"></i>
<i style="left:561px;top:186px;width:102px;height:1px;background:#000"></i>
<i style="left:662px;top:186px;width:108px;height:1px;background:#000"></i>
<i style="left:769px;top:186px;width:113px;height:1px;background:#000"></i>
<i style="left:51px;top:208px;width:105px;height:1px;background:#000"></i>
<i style="left:155px;top:208px;width:93px;height:1px;background:#000"></i>
<i style="left:247px;top:208px;width:98px;height:1px;background:#000"></i>
<i style="left:344px;top:208px;width:128px;height:1px;background:#000"></i>
<i style="left:471px;top:208px;width:91px;height:1px;background:#000"></i>
<i style="left:561px;top:208px;width:102px;height:1px;background:#000"></i>
<i style="left:662px;top:208px;width:108px;height:1px;background:#000"></i>
<i style="left:769px;top:208px;width:113px;height:1px;background:#000"></i>
<i style="left:51px;top:231px;width:105px;height:1px;background:#000"></i>
<i style="left:155px;top:231px;width:93px;height:1px;background:#000"></i>
<i style="left:247px;top:231px;width:98px;height:1px;background:#000"></i>
<i style="left:344px;top:231px;width:128px;height:1px;background:#000"></i>
<i style="left:471px;top:231px;width:91px;height:1px;background:#000"></i>
<i style="left:561px;top:231px;width:102px;height:1px;background:#000"></i>
<i style="left:662px;top:231px;width:108px;height:1px;background:#000"></i>
<i style="left:769px;top:231px;width:113px;height:1px;background:#000"></i>
<i style="left:51px;top:254px;width:105px;height:1px;background:#000"></i>
<i style="left:155px;top:254px;width:93px;height:1px;background:#000"></i>
<i style="left:247px;top:254px;width:98px;height:1px;background:#000"></i>
<i style="left:344px;top:254px;width:128px;height:1px;background:#000"></i>
<i style="left:471px;top:254px;width:91px;height:1px;background:#000"></i>
<i style="left:561px;top:254px;width:102px;height:1px;background:#000"></i>
<i style="left:662px;top:254px;width:108px;height:1px;background:#000"></i>
<i style="left:769px;top:254px;width:113px;height:1px;background:#000"></i>
<i style="left:51px;top:277px;width:105px;height:1px;background:#000"></i>
<i style="left:155px;top:277px;width:93px;height:1px;background:#000"></i>
<i style="left:247px;top:277px;width:98px;height:1px;background:#000"></i>
<i style="left:344px;top:277px;width:128px;height:1px;background:#000"></i>
<i style="left:471px;top:277px;width:91px;height:1px;background:#000"></i>
<i style="left:561px;top:277px;width:102px;height:1px;background:#000"></i>
<i style="left:662px;top:277px;width:108px;height:1px;background:#000"></i>
<i style="left:769px;top:277px;width:113px;height:1px;background:#000"></i>
<i style="left:51px;top:300px;width:105px;height:1px;background:#000"></i>
<i style="left:155px;top:300px;width:93px;height:1px;background:#000"></i>
<i style="left:247px;top:300px;width:98px;height:1px;background:#000"></i>
<i style="left:344px;top:300px;width:128px;height:1px;background:#000"></i>
<i style="left:471px;top:300px;width:91px;height:1px;background:#000"></i>
<i style="left:561px;top:300px;width:102px;height:1px;background:#000"></i>
<i style="left:662px;top:300px;width:108px;height:1px;background:#000"></i>
<i style="left:769px;top:300px;width:113px;height:1px;background:#000"></i>
<i style="left:51px;top:323px;width:105px;height:1px;background:#000"></i>
<i style="left:155px;top:323px;width:93px;height:1px;background:#000"></i>
<i style="left:247px;top:323px;width:98px;height:1px;background:#000"></i>
<i style="left:344px;top:323px;width:128px;height:1px;background:#000"></i>
<i style="left:471px;top:323px;width:91px;height:1px;background:#000"></i>
<i style="left:561px;top:323px;width:102px;height:1px;background:#000"></i>
<i style="left:662px;top:323px;width:108px;height:1px;background:#000"></i>
<i style="left:769px;top:323px;width:113px;height:1px;background:#000"></i>
<i style="left:51px;top:346px;width:105px;height:1px;background:#000"></i>
<i style="left:155px;top:346px;width:93px;height:1px;background:#000"></i>
<i style="left:247px;top:346px;width:98px;height:1px;background:#000"></i>
<i style="left:344px;top:346px;width:128px;height:1px;background:#000"></i>
<i style="left:471px;top:346px;width:91px;height:1px;background:#000"></i>
<i style="left:561px;top:346px;width:102px;height:1px;background:#000"></i>
<i style="left:662px;top:346px;width:108px;height:1px;background:#000"></i>
<i style="left:769px;top:346px;width:113px;height:1px;background:#000"></i>
<i style="left:51px;top:368px;width:105px;height:1px;background:#000"></i>
<i style="left:155px;top:368px;width:93px;height:1px;background:#000"></i>
<i style="left:247px;top:368px;width:98px;height:1px;background:#000"></i>
<i style="left:344px;top:368px;width:128px;height:1px;background:#000"></i>
<i style="left:471px;top:368px;width:91px;height:1px;background:#000"></i>
<i style="left:561px;top:368px;width:102px;height:1px;background:#000"></i>
<i style="left:662px;top:368px;width:108px;height:1px;background:#000"></i>
<i style="left:769px;top:368px;width:113px;height:1px;background:#000"></i>
<i style="left:51px;top:391px;width:105px;height:1px;background:#000"></i>
<i style="left:155px;top:391px;width:93px;height:1px;background:#000"></i>
<i style="left:247px;top:391px;width:98px;height:1px;background:#000"></i>
<i style="left:344px;top:391px;width:128px;height:1px;background:#000"></i>
<i style="left:471px;top:391px;width:91px;height:1px;background:#000"></i>
<i style="left:561px;top:391px;width:102px;height:1px;background:#000"></i>
<i style="left:662px;top:391px;width:108px;height:1px;background:#000"></i>
<i style="left:769px;top:391px;width:113px;height:1px;background:#000"></i>
<i style="left:51px;top:414px;width:105px;height:1px;background:#000"></i>
<i style="left:155px;top:414px;width:93px;height:1px;background:#000"></i>
<i style="left:247px;top:414px;width:98px;height:1px;background:#000"></i>
<i style="left:344px;top:414px;width:128px;height:1px;background:#000"></i>
<i style="left:471px;top:414px;width:91px;height:1px;background:#000"></i>
<i style="left:561px;top:414px;width:102px;height:1px;background:#000"></i>
<i style="left:662px;top:414px;width:108px;height:1px;background:#000"></i>
<i style="left:769px;top:414px;width:113px;height:1px;background:#000"></i>
<i style="left:51px;top:437px;width:105px;height:1px;background:#000"></i>
<i style="left:155px;top:437px;width:93px;height:1px;background:#000"></i>
<i style="left:247px;top:437px;width:98px;height:1px;background:#000"></i>
<i style="left:344px;top:437px;width:128px;height:1px;background:#000"></i>
<i style="left:471px;top:437px;width:91px;height:1px;background:#000"></i>
<i style="left:561px;top:437px;width:102px;height:1px;background:#000"></i>
<i style="left:662px;top:437px;width:108px;height:1px;background:#000"></i>
<i style="left:769px;top:437px;width:113px;height:1px;background:#000"></i>
<i style="left:51px;top:460px;width:105px;height:1px;background:#000"></i>
<i style="left:155px;top:460px;width:93px;height:1px;background:#000"></i>
<i style="left:247px;top:460px;width:98px;height:1px;background:#000"></i>
<i style="left:344px;top:460px;width:128px;height:1px;background:#000"></i>
<i style="left:471px;top:460px;width:91px;height:1px;background:#000"></i>
<i style="left:561px;top:460px;width:102px;height:1px;background:#000"></i>
<i style="left:662px;top:460px;width:108px;height:1px;background:#000"></i>
<i style="left:769px;top:460px;width:113px;height:1px;background:#000"></i>
<i style="left:51px;top:489px;width:105px;height:1px;background:#000"></i>
<i style="left:155px;top:489px;width:93px;height:1px;background:#000"></i>
<i style="left:247px;top:489px;width:98px;height:1px;background:#000"></i>
<i style="left:344px;top:489px;width:128px;height:1px;background:#000"></i>
<i style="left:471px;top:489px;width:91px;height:1px;background:#000"></i>
<i style="left:561px;top:489px;width:102px;height:1px;background:#000"></i>
<i style="left:662px;top:489px;width:108px;height:1px;background:#000"></i>
<i style="left:769px;top:489px;width:113px;height:1px;background:#000"></i>
<i style="left:51px;top:512px;width:105px;height:1px;background:#000"></i>
<i style="left:155px;top:512px;width:93px;height:1px;background:#000"></i>
<i style="left:247px;top:512px;width:98px;height:1px;background:#000"></i>
<i style="left:344px;top:512px;width:128px;height:1px;background:#000"></i>
<i style="left:471px;top:512px;width:91px;height:1px;background:#000"></i>
<i style="left:561px;top:512px;width:102px;height:1px;background:#000"></i>
<i style="left:662px;top:512px;width:108px;height:1px;background:#000"></i>
<i style="left:769px;top:512px;width:113px;height:1px;background:#000"></i>
<i style="left:51px;top:535px;width:105px;height:1px;background:#000"></i>
<i style="left:155px;top:535px;width:93px;height:1px;background:#000"></i>
<i style="left:247px;top:535px;width:98px;height:1px;background:#000"></i>
<i style="left:344px;top:535px;width:128px;height:1px;background:#000"></i>
<i style="left:471px;top:535px;width:91px;height:1px;background:#000"></i>
<i style="left:561px;top:535px;width:102px;height:1px;background:#000"></i>
<i style="left:662px;top:535px;width:108px;height:1px;background:#000"></i>
<i style="left:769px;top:535px;width:113px;height:1px;background:#000"></i>
<i style="left:51px;top:557px;width:105px;height:1px;background:#000"></i>
<i style="left:155px;top:557px;width:93px;height:1px;background:#000"></i>
<i style="left:247px;top:557px;width:98px;height:1px;background:#000"></i>
<i style="left:344px;top:557px;width:128px;height:1px;background:#000"></i>
<i style="left:471px;top:557px;width:91px;height:1px;background:#000"></i>
<i style="left:561px;top:557px;width:102px;height:1px;background:#000"></i>
<i style="left:662px;top:557px;width:108px;height:1px;background:#000"></i>
<i style="left:769px;top:557px;width:113px;height:1px;background:#000"></i>
<i style="left:51px;top:579px;width:105px;height:1px;background:#000"></i>
<i style="left:155px;top:579px;width:93px;height:1px;background:#000"></i>
<i style="left:247px;top:579px;width:98px;height:1px;background:#000"></i>
<i style="left:344px;top:579px;width:128px;height:1px;background:#000"></i>
<i style="left:471px;top:579px;width:91px;height:1px;background:#000"></i>
<i style="left:561px;top:579px;width:102px;height:1px;background:#000"></i>
<i style="left:662px;top:579px;width:108px;height:1px;background:#000"></i>
<i style="left:769px;top:579px;width:113px;height:1px;background:#000"></i>
<i style="left:51px;top:600px;width:105px;height:1px;background:#000"></i>
<i style="left:155px;top:600px;width:93px;height:1px;background:#000"></i>
<i style="left:247px;top:600px;width:98px;height:1px;background:#000"></i>
<i style="left:344px;top:600px;width:128px;height:1px;background:#000"></i>
<i style="left:471px;top:600px;width:91px;height:1px;background:#000"></i>
<i style="left:561px;top:600px;width:102px;height:1px;background:#000"></i>
<i style="left:662px;top:600px;width:108px;height:1px;background:#000"></i>
<i style="left:769px;top:600px;width:113px;height:1px;background:#000"></i>
<i style="left:51px;top:622px;width:105px;height:1px;background:#000"></i>
<i style="left:155px;top:622px;width:93px;height:1px;background:#000"></i>
<i style="left:247px;top:622px;width:98px;height:1px;background:#000"></i>
<i style="left:344px;top:622px;width:128px;height:1px;background:#000"></i>
<i style="left:471px;top:622px;width:91px;height:1px;background:#000"></i>
<i style="left:561px;top:622px;width:102px;height:1px;background:#000"></i>
<i style="left:662px;top:622px;width:108px;height:1px;background:#000"></i>
<i style="left:769px;top:622px;width:113px;height:1px;background:#000"></i>
<i style="left:155px;top:643px;width:93px;height:1px;background:#000"></i>
<i style="left:247px;top:643px;width:98px;height:1px;background:#000"></i>
<i style="left:344px;top:643px;width:128px;height:1px;background:#000"></i>
<i style="left:471px;top:643px;width:91px;height:1px;background:#000"></i>
<i style="left:561px;top:643px;width:102px;height:1px;background:#000"></i>
<i style="left:662px;top:643px;width:108px;height:1px;background:#000"></i>
<i style="left:769px;top:643px;width:113px;height:1px;background:#000"></i>
<i style="left:51px;top:664px;width:105px;height:1px;background:#000"></i>
<i style="left:155px;top:664px;width:93px;height:1px;background:#000"></i>
<i style="left:247px;top:664px;width:98px;height:1px;background:#000"></i>
<i style="left:344px;top:664px;width:128px;height:1px;background:#000"></i>
<i style="left:471px;top:664px;width:91px;height:1px;background:#000"></i>
<i style="left:561px;top:664px;width:102px;height:1px;background:#000"></i>
<i style="left:662px;top:664px;width:108px;height:1px;background:#000"></i>
<i style="left:769px;top:664px;width:113px;height:1px;background:#000"></i>
<i style="left:51px;top:687px;width:105px;height:1px;background:#000"></i>
<i style="left:155px;top:687px;width:93px;height:1px;background:#000"></i>
<i style="left:247px;top:687px;width:98px;height:1px;background:#000"></i>
<i style="left:344px;top:687px;width:128px;height:1px;background:#000"></i>
<i style="left:471px;top:687px;width:91px;height:1px;background:#000"></i>
<i style="left:561px;top:687px;width:102px;height:1px;background:#000"></i>
<i style="left:662px;top:687px;width:108px;height:1px;background:#000"></i>
<i style="left:769px;top:687px;width:113px;height:1px;background:#000"></i>
<i style="left:881px;top:687px;width:63px;height:1px;background:#000"></i>
<i style="left:51px;top:710px;width:105px;height:1px;background:#000"></i>
<i style="left:155px;top:710px;width:93px;height:1px;background:#000"></i>
<i style="left:247px;top:710px;width:98px;height:1px;background:#000"></i>
<i style="left:344px;top:710px;width:128px;height:1px;background:#000"></i>
<i style="left:471px;top:710px;width:91px;height:1px;background:#000"></i>
<i style="left:662px;top:710px;width:108px;height:1px;background:#000"></i>
<i style="left:769px;top:710px;width:113px;height:1px;background:#000"></i>
<i style="left:51px;top:733px;width:105px;height:1px;background:#000"></i>
<i style="left:155px;top:733px;width:93px;height:1px;background:#000"></i>
<i style="left:247px;top:733px;width:98px;height:1px;background:#000"></i>
<i style="left:344px;top:733px;width:128px;height:1px;background:#000"></i>
<i style="left:471px;top:733px;width:91px;height:1px;background:#000"></i>
<i style="left:662px;top:733px;width:108px;height:1px;background:#000"></i>
<i style="left:769px;top:733px;width:113px;height:1px;background:#000"></i>
<i style="left:51px;top:756px;width:105px;height:1px;background:#000"></i>
<i style="left:155px;top:756px;width:93px;height:1px;background:#000"></i>
<i style="left:247px;top:756px;width:98px;height:1px;background:#000"></i>
<i style="left:344px;top:756px;width:128px;height:1px;background:#000"></i>
<i style="left:471px;top:756px;width:91px;height:1px;background:#000"></i>
<i style="left:662px;top:756px;width:108px;height:1px;background:#000"></i>
<i style="left:769px;top:756px;width:113px;height:1px;background:#000"></i>
<i style="left:51px;top:779px;width:105px;height:1px;background:#000"></i>
<i style="left:155px;top:779px;width:93px;height:1px;background:#000"></i>
<i style="left:247px;top:779px;width:98px;height:1px;background:#000"></i>
<i style="left:344px;top:779px;width:128px;height:1px;background:#000"></i>
<i style="left:471px;top:779px;width:91px;height:1px;background:#000"></i>
<i style="left:662px;top:779px;width:108px;height:1px;background:#000"></i>
<i style="left:769px;top:779px;width:113px;height:1px;background:#000"></i>
<i style="left:51px;top:803px;width:105px;height:1px;background:#000"></i>
<i style="left:155px;top:803px;width:93px;height:1px;background:#000"></i>
<i style="left:247px;top:803px;width:98px;height:1px;background:#000"></i>
<i style="left:344px;top:803px;width:128px;height:1px;background:#000"></i>
<i style="left:471px;top:803px;width:91px;height:1px;background:#000"></i>
<i style="left:561px;top:803px;width:102px;height:1px;background:#000"></i>
<i style="left:662px;top:803px;width:108px;height:1px;background:#000"></i>
<i style="left:769px;top:803px;width:113px;height:1px;background:#000"></i>
<i style="left:881px;top:803px;width:63px;height:1px;background:#000"></i>
<i style="left:51px;top:826px;width:105px;height:1px;background:#000"></i>
<i style="left:155px;top:826px;width:93px;height:1px;background:#000"></i>
<i style="left:247px;top:826px;width:98px;height:1px;background:#000"></i>
<i style="left:344px;top:826px;width:128px;height:1px;background:#000"></i>
<i style="left:471px;top:826px;width:91px;height:1px;background:#000"></i>
<i style="left:561px;top:826px;width:102px;height:1px;background:#000"></i>
<i style="left:662px;top:826px;width:108px;height:1px;background:#000"></i>
<i style="left:769px;top:826px;width:113px;height:1px;background:#000"></i>
<i style="left:51px;top:847px;width:105px;height:1px;background:#000"></i>
<i style="left:155px;top:847px;width:93px;height:1px;background:#000"></i>
<i style="left:247px;top:847px;width:98px;height:1px;background:#000"></i>
<i style="left:344px;top:847px;width:128px;height:1px;background:#000"></i>
<i style="left:471px;top:847px;width:91px;height:1px;background:#000"></i>
<i style="left:561px;top:847px;width:102px;height:1px;background:#000"></i>
<i style="left:662px;top:847px;width:108px;height:1px;background:#000"></i>
<i style="left:769px;top:847px;width:113px;height:1px;background:#000"></i>
<i style="left:51px;top:869px;width:105px;height:1px;background:#000"></i>
<i style="left:155px;top:869px;width:93px;height:1px;background:#000"></i>
<i style="left:247px;top:869px;width:98px;height:1px;background:#000"></i>
<i style="left:344px;top:869px;width:128px;height:1px;background:#000"></i>
<i style="left:471px;top:869px;width:91px;height:1px;background:#000"></i>
<i style="left:561px;top:869px;width:102px;height:1px;background:#000"></i>
<i style="left:662px;top:869px;width:108px;height:1px;background:#000"></i>
<i style="left:769px;top:869px;width:113px;height:1px;background:#000"></i>
<i style="left:51px;top:890px;width:105px;height:1px;background:#000"></i>
<i style="left:155px;top:890px;width:93px;height:1px;background:#000"></i>
<i style="left:247px;top:890px;width:98px;height:1px;background:#000"></i>
<i style="left:344px;top:890px;width:128px;height:1px;background:#000"></i>
<i style="left:471px;top:890px;width:91px;height:1px;background:#000"></i>
<i style="left:561px;top:890px;width:102px;height:1px;background:#000"></i>
<i style="left:662px;top:890px;width:108px;height:1px;background:#000"></i>
<i style="left:769px;top:890px;width:113px;height:1px;background:#000"></i>
<i style="left:51px;top:913px;width:105px;height:1px;background:#000"></i>
<i style="left:155px;top:913px;width:93px;height:1px;background:#000"></i>
<i style="left:247px;top:913px;width:98px;height:1px;background:#000"></i>
<i style="left:344px;top:913px;width:128px;height:1px;background:#000"></i>
<i style="left:471px;top:913px;width:91px;height:1px;background:#000"></i>
<i style="left:561px;top:913px;width:102px;height:1px;background:#000"></i>
<i style="left:662px;top:913px;width:108px;height:1px;background:#000"></i>
<i style="left:769px;top:913px;width:113px;height:1px;background:#000"></i>
<i style="left:51px;top:936px;width:105px;height:1px;background:#000"></i>
<i style="left:155px;top:936px;width:93px;height:1px;background:#000"></i>
<i style="left:247px;top:936px;width:98px;height:1px;background:#000"></i>
<i style="left:344px;top:936px;width:128px;height:1px;background:#000"></i>
<i style="left:471px;top:936px;width:91px;height:1px;background:#000"></i>
<i style="left:561px;top:936px;width:102px;height:1px;background:#000"></i>
<i style="left:662px;top:936px;width:108px;height:1px;background:#000"></i>
<i style="left:769px;top:936px;width:113px;height:1px;background:#000"></i>
<i style="left:51px;top:959px;width:105px;height:1px;background:#000"></i>
<i style="left:155px;top:959px;width:93px;height:1px;background:#000"></i>
<i style="left:247px;top:959px;width:98px;height:1px;background:#000"></i>
<i style="left:344px;top:959px;width:128px;height:1px;background:#000"></i>
<i style="left:471px;top:959px;width:91px;height:1px;background:#000"></i>
<i style="left:561px;top:959px;width:102px;height:1px;background:#000"></i>
<i style="left:662px;top:959px;width:108px;height:1px;background:#000"></i>
<i style="left:769px;top:959px;width:113px;height:1px;background:#000"></i>
<i style="left:155px;top:980px;width:93px;height:1px;background:#000"></i>
<i style="left:247px;top:980px;width:98px;height:1px;background:#000"></i>
<i style="left:344px;top:980px;width:128px;height:1px;background:#000"></i>
<i style="left:471px;top:980px;width:91px;height:1px;background:#000"></i>
<i style="left:561px;top:980px;width:102px;height:1px;background:#000"></i>
<i style="left:662px;top:980px;width:108px;height:1px;background:#000"></i>
<i style="left:769px;top:980px;width:113px;height:1px;background:#000"></i>
<i style="left:51px;top:1001px;width:105px;height:1px;background:#000"></i>
<i style="left:155px;top:1001px;width:93px;height:1px;background:#000"></i>
<i style="left:247px;top:1001px;width:98px;height:1px;background:#000"></i>
<i style="left:344px;top:1001px;width:128px;height:1px;background:#000"></i>
<i style="left:471px;top:1001px;width:91px;height:1px;background:#000"></i>
<i style="left:561px;top:1001px;width:102px;height:1px;background:#000"></i>
<i style="left:662px;top:1001px;width:108px;height:1px;background:#000"></i>
<i style="left:769px;top:1001px;width:113px;height:1px;background:#000"></i>
<i style="left:155px;top:1023px;width:93px;height:1px;background:#000"></i>
<i style="left:344px;top:1023px;width:128px;height:1px;background:#000"></i>
<i style="left:471px;top:1023px;width:91px;height:1px;background:#000"></i>
<i style="left:561px;top:1023px;width:102px;height:1px;background:#000"></i>
<i style="left:662px;top:1023px;width:108px;height:1px;background:#000"></i>
<i style="left:769px;top:1023px;width:113px;height:1px;background:#000"></i>
<i style="left:155px;top:622px;width:1px;height:42px;background:#000"></i>
<i style="left:155px;top:959px;width:1px;height:84px;background:#000"></i>
<i style="left:53px;top:1057px;width:884px;height:29px;background:#f2dcec"></i>
<b class="c h" style="left:53px;top:1057px;width:193px;height:29px;"><p><span class="k">프로그램명</span></p></b>
<b class="c h" style="left:247px;top:1057px;width:71px;height:29px;"><p><span class="k">요</span> <span class="k">일</span></p></b>
<b class="c h" style="left:319px;top:1057px;width:117px;height:29px;"><p><span class="k">시</span> <span class="k">간</span></p></b>
<b class="c h" style="left:437px;top:1057px;width:96px;height:29px;"><p><span class="k">장소</span></p></b>
<b class="c h" style="left:534px;top:1057px;width:110px;height:29px;"><p><span class="k">대상</span></p></b>
<b class="c h" style="left:645px;top:1057px;width:135px;height:29px;"><p><span class="k">회</span> <span class="k">비</span>(<span class="k">원</span>)</p></b>
<b class="c h red" style="left:781px;top:1057px;width:99px;height:29px;"><p><span class="k">잔여인원</span></p></b>
<b class="c h" style="left:881px;top:1057px;width:56px;height:29px;"><p><span class="k">비고</span></p></b>
<b class="c " style="left:53px;top:1087px;width:193px;height:39px;"><p>K-POP<span class="k">댄스</span></p></b>
<b class="c " style="left:247px;top:1087px;width:71px;height:39px;"><p><span class="k">월수</span></p></b>
<b class="c  tm dg" style="left:319px;top:1087px;width:117px;height:39px;"><p>16:00~16:50</p></b>
<b class="c " style="left:437px;top:1087px;width:96px;height:39px;"><p><span class="k">다목적실</span></p></b>
<b class="c ml2" style="left:534px;top:1087px;width:110px;height:39px;"><p><span class="k">초등</span>~<br><span class="k">청소년</span></p></b>
<b class="c ml2" style="left:645px;top:1087px;width:135px;height:39px;"><p><span class="k">어린이</span>:&nbsp;&nbsp;40,000<br><span class="k">청소년</span>:&nbsp;&nbsp;44,000</p></b>
<b class="c red dg" style="left:781px;top:1087px;width:99px;height:39px;"><p>17</p></b>
<b class="c " style="left:53px;top:1127px;width:193px;height:20px;"><p><span class="k">게임축구</span></p></b>
<b class="c  tm dg" style="left:319px;top:1127px;width:117px;height:20px;"><p>09:00~09:50</p></b>
<b class="c " style="left:437px;top:1127px;width:96px;height:20px;"><p><span class="k">체육관</span></p></b>
<b class="c " style="left:534px;top:1127px;width:110px;height:20px;"><p><span class="k">초</span>4<span class="k">이하</span></p></b>
<b class="c " style="left:645px;top:1127px;width:135px;height:20px;"><p>22,000<span class="k">원</span></p></b>
<b class="c red dg" style="left:781px;top:1127px;width:99px;height:20px;"><p>1</p></b>
<b class="c " style="left:53px;top:1148px;width:193px;height:21px;"><p><span class="k">어린이주말농구</span>A</p></b>
<b class="c  tm dg" style="left:319px;top:1148px;width:117px;height:21px;"><p>14:00~14:50</p></b>
<b class="c " style="left:437px;top:1148px;width:96px;height:21px;"><p><span class="k">체육관</span></p></b>
<b class="c " style="left:534px;top:1148px;width:110px;height:21px;"><p><span class="k">초등생</span></p></b>
<b class="c  dg" style="left:645px;top:1148px;width:135px;height:21px;"><p>22,000</p></b>
<b class="c red dg" style="left:781px;top:1148px;width:99px;height:21px;"><p>5</p></b>
<b class="c " style="left:53px;top:1170px;width:193px;height:20px;"><p><span class="k">어린이주말농구</span>B</p></b>
<b class="c  tm dg" style="left:319px;top:1170px;width:117px;height:20px;"><p>15:00~15:50</p></b>
<b class="c " style="left:437px;top:1170px;width:96px;height:20px;"><p><span class="k">체육관</span></p></b>
<b class="c " style="left:534px;top:1170px;width:110px;height:20px;"><p><span class="k">초등생</span></p></b>
<b class="c  dg" style="left:645px;top:1170px;width:135px;height:20px;"><p>22,000</p></b>
<b class="c red dg" style="left:781px;top:1170px;width:99px;height:20px;"><p>11</p></b>
<b class="c " style="left:53px;top:1191px;width:193px;height:20px;"><p><span class="k">청소년농구</span>A</p></b>
<b class="c  tm dg" style="left:319px;top:1191px;width:117px;height:20px;"><p>16:00~16:50</p></b>
<b class="c " style="left:437px;top:1191px;width:96px;height:20px;"><p><span class="k">체육관</span></p></b>
<b class="c " style="left:534px;top:1191px;width:110px;height:20px;"><p><span class="k">중</span>·<span class="k">고생</span></p></b>
<b class="c  dg" style="left:645px;top:1191px;width:135px;height:20px;"><p>27,500</p></b>
<b class="c red dg" style="left:781px;top:1191px;width:99px;height:20px;"><p>25</p></b>
<b class="c " style="left:53px;top:1212px;width:193px;height:21px;"><p><span class="k">청소년농구</span>B</p></b>
<b class="c  tm dg" style="left:319px;top:1212px;width:117px;height:21px;"><p>17:00~17:50</p></b>
<b class="c " style="left:437px;top:1212px;width:96px;height:21px;"><p><span class="k">체육관</span></p></b>
<b class="c " style="left:534px;top:1212px;width:110px;height:21px;"><p><span class="k">중</span>·<span class="k">고생</span></p></b>
<b class="c  dg" style="left:645px;top:1212px;width:135px;height:21px;"><p>27,500</p></b>
<b class="c red" style="left:781px;top:1212px;width:99px;height:21px;"><p><span class="k">휴강</span></p></b>
<b class="c " style="left:53px;top:1234px;width:193px;height:20px;"><p><span class="k">영어놀이발레</span>A</p></b>
<b class="c  tm dg" style="left:319px;top:1234px;width:117px;height:20px;"><p>12:00~12:50</p></b>
<b class="c " style="left:437px;top:1234px;width:96px;height:20px;"><p><span class="k">다목적실</span></p></b>
<b class="c " style="left:534px;top:1234px;width:110px;height:20px;"><p>6<span class="k">세</span>~<span class="k">초등</span></p></b>
<b class="c  dg" style="left:645px;top:1234px;width:135px;height:20px;"><p>24,200</p></b>
<b class="c red dg" style="left:781px;top:1234px;width:99px;height:20px;"><p>16</p></b>
<b class="c " style="left:53px;top:1255px;width:193px;height:20px;"><p><span class="k">영어놀이발레</span>B</p></b>
<b class="c  tm dg" style="left:319px;top:1255px;width:117px;height:20px;"><p>13:00~13:50</p></b>
<b class="c " style="left:437px;top:1255px;width:96px;height:20px;"><p><span class="k">다목적실</span></p></b>
<b class="c " style="left:534px;top:1255px;width:110px;height:20px;"><p>5~6<span class="k">세</span></p></b>
<b class="c  dg" style="left:645px;top:1255px;width:135px;height:20px;"><p>24,200</p></b>
<b class="c red dg" style="left:781px;top:1255px;width:99px;height:20px;"><p>7</p></b>
<b class="c " style="left:53px;top:1276px;width:193px;height:19px;"><p><span class="k">영어놀이발레</span>C</p></b>
<b class="c  tm dg" style="left:319px;top:1276px;width:117px;height:19px;"><p>14:00~14:50</p></b>
<b class="c " style="left:437px;top:1276px;width:96px;height:19px;"><p><span class="k">다목적실</span></p></b>
<b class="c " style="left:534px;top:1276px;width:110px;height:19px;"><p>7<span class="k">세</span>~<span class="k">초등</span></p></b>
<b class="c  dg" style="left:645px;top:1276px;width:135px;height:19px;"><p>24,200</p></b>
<b class="c red dg" style="left:781px;top:1276px;width:99px;height:19px;"><p>15</p></b>
<b class="c " style="left:247px;top:1127px;width:71px;height:106px;"><p><span class="k">토</span></p></b>
<b class="c " style="left:247px;top:1234px;width:71px;height:61px;"><p><span class="k">토</span></p></b>
<i style="left:51px;top:1055px;width:888px;height:2px;background:#000"></i>
<i style="left:51px;top:1295px;width:888px;height:2px;background:#000"></i>
<i style="left:51px;top:1055px;width:2px;height:242px;background:#000"></i>
<i style="left:937px;top:1055px;width:2px;height:242px;background:#000"></i>
<i style="left:51px;top:1086px;width:886px;height:1px;background:#000"></i>
<i style="left:246px;top:1055px;width:1px;height:240px;background:#000"></i>
<i style="left:318px;top:1055px;width:1px;height:240px;background:#000"></i>
<i style="left:436px;top:1055px;width:1px;height:240px;background:#000"></i>
<i style="left:533px;top:1055px;width:1px;height:240px;background:#000"></i>
<i style="left:644px;top:1055px;width:1px;height:240px;background:#000"></i>
<i style="left:780px;top:1055px;width:1px;height:240px;background:#000"></i>
<i style="left:880px;top:1055px;width:1px;height:240px;background:#000"></i>
<i style="left:51px;top:1126px;width:196px;height:1px;background:#000"></i>
<i style="left:246px;top:1126px;width:73px;height:1px;background:#000"></i>
<i style="left:318px;top:1126px;width:119px;height:1px;background:#000"></i>
<i style="left:436px;top:1126px;width:98px;height:1px;background:#000"></i>
<i style="left:533px;top:1126px;width:112px;height:1px;background:#000"></i>
<i style="left:644px;top:1126px;width:137px;height:1px;background:#000"></i>
<i style="left:780px;top:1126px;width:101px;height:1px;background:#000"></i>
<i style="left:51px;top:1147px;width:196px;height:1px;background:#000"></i>
<i style="left:318px;top:1147px;width:119px;height:1px;background:#000"></i>
<i style="left:436px;top:1147px;width:98px;height:1px;background:#000"></i>
<i style="left:533px;top:1147px;width:112px;height:1px;background:#000"></i>
<i style="left:644px;top:1147px;width:137px;height:1px;background:#000"></i>
<i style="left:780px;top:1147px;width:101px;height:1px;background:#000"></i>
<i style="left:51px;top:1169px;width:196px;height:1px;background:#000"></i>
<i style="left:318px;top:1169px;width:119px;height:1px;background:#000"></i>
<i style="left:436px;top:1169px;width:98px;height:1px;background:#000"></i>
<i style="left:533px;top:1169px;width:112px;height:1px;background:#000"></i>
<i style="left:644px;top:1169px;width:137px;height:1px;background:#000"></i>
<i style="left:780px;top:1169px;width:101px;height:1px;background:#000"></i>
<i style="left:51px;top:1190px;width:196px;height:1px;background:#000"></i>
<i style="left:318px;top:1190px;width:119px;height:1px;background:#000"></i>
<i style="left:436px;top:1190px;width:98px;height:1px;background:#000"></i>
<i style="left:533px;top:1190px;width:112px;height:1px;background:#000"></i>
<i style="left:644px;top:1190px;width:137px;height:1px;background:#000"></i>
<i style="left:780px;top:1190px;width:101px;height:1px;background:#000"></i>
<i style="left:51px;top:1211px;width:196px;height:1px;background:#000"></i>
<i style="left:318px;top:1211px;width:119px;height:1px;background:#000"></i>
<i style="left:436px;top:1211px;width:98px;height:1px;background:#000"></i>
<i style="left:533px;top:1211px;width:112px;height:1px;background:#000"></i>
<i style="left:644px;top:1211px;width:137px;height:1px;background:#000"></i>
<i style="left:780px;top:1211px;width:101px;height:1px;background:#000"></i>
<i style="left:51px;top:1233px;width:196px;height:1px;background:#000"></i>
<i style="left:246px;top:1233px;width:73px;height:1px;background:#000"></i>
<i style="left:318px;top:1233px;width:119px;height:1px;background:#000"></i>
<i style="left:436px;top:1233px;width:98px;height:1px;background:#000"></i>
<i style="left:533px;top:1233px;width:112px;height:1px;background:#000"></i>
<i style="left:644px;top:1233px;width:137px;height:1px;background:#000"></i>
<i style="left:780px;top:1233px;width:101px;height:1px;background:#000"></i>
<i style="left:51px;top:1254px;width:196px;height:1px;background:#000"></i>
<i style="left:318px;top:1254px;width:119px;height:1px;background:#000"></i>
<i style="left:436px;top:1254px;width:98px;height:1px;background:#000"></i>
<i style="left:533px;top:1254px;width:112px;height:1px;background:#000"></i>
<i style="left:644px;top:1254px;width:137px;height:1px;background:#000"></i>
<i style="left:780px;top:1254px;width:101px;height:1px;background:#000"></i>
<i style="left:51px;top:1275px;width:196px;height:1px;background:#000"></i>
<i style="left:318px;top:1275px;width:119px;height:1px;background:#000"></i>
<i style="left:436px;top:1275px;width:98px;height:1px;background:#000"></i>
<i style="left:533px;top:1275px;width:112px;height:1px;background:#000"></i>
<i style="left:644px;top:1275px;width:137px;height:1px;background:#000"></i>
<i style="left:780px;top:1275px;width:101px;height:1px;background:#000"></i>
<div class="botbar"></div>
<svg style="position:absolute;left:340px;top:1339px" width="56" height="56" viewBox="0 0 56 56">
<defs><clipPath id="cc"><circle cx="28" cy="28" r="27.6"/></clipPath><clipPath id="up"><rect x="0" y="0" width="56" height="34"/></clipPath></defs>
<g clip-path="url(#up)" fill="none">
<circle cx="28" cy="28" r="27" stroke="#eea070" stroke-width="1.2"/>
<circle cx="28" cy="28" r="22.4" stroke="#ea7632" stroke-width="1.8"/>
<circle cx="28" cy="28" r="15" stroke="#ef7426" stroke-width="4.2"/>
<circle cx="28" cy="28" r="10.5" fill="#f17622"/>
</g>
<g clip-path="url(#cc)">
<path d="M0 37 q2.2 -2.2 4.4 0 t4.4 0 t4.4 0 t4.4 0 t4.4 0 t4.4 0 t4.4 0 t4.4 0 t4.4 0 t4.4 0 t4.4 0 t4.4 0 t4.4 0 t4.4 0" fill="none" stroke="#1b3a8c" stroke-width="2.3"/>
<path d="M0 43 q2.2 -2.4 4.4 0 t4.4 0 t4.4 0 t4.4 0 t4.4 0 t4.4 0 t4.4 0 t4.4 0 t4.4 0 t4.4 0 t4.4 0 t4.4 0 t4.4 0 t4.4 0" fill="none" stroke="#1d4a9e" stroke-width="3.6"/>
<path d="M0 49 q2.2 -2.4 4.4 0 t4.4 0 t4.4 0 t4.4 0 t4.4 0 t4.4 0 t4.4 0 t4.4 0 t4.4 0 t4.4 0 t4.4 0 t4.4 0 t4.4 0 t4.4 0 L62 60 L0 60 Z" fill="#1f56ae"/>
</g></svg>
<div class="sg" style="left:405px;top:1339px;font-size:20px;letter-spacing:0.35px;color:#1c2a5e;font-weight:normal;-webkit-text-stroke:0.9px #1c2a5e">양천구시설관리공단</div>
<div class="sg" style="left:402px;top:1363px;font-size:31px;letter-spacing:0.9px;color:#1a2858;-webkit-text-stroke:1.2px #1a2858">신월문화체육센터</div>
</body></html>
